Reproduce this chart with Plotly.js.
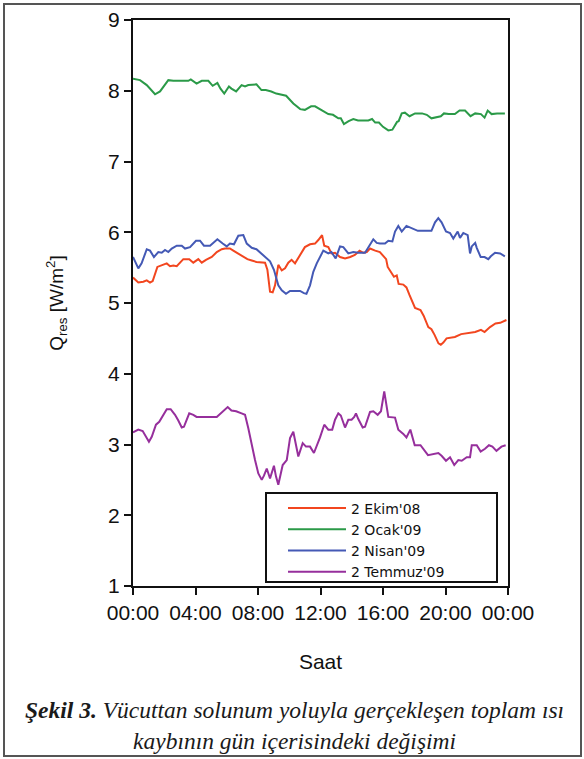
<!DOCTYPE html>
<html>
<head>
<meta charset="utf-8">
<script src="https://cdn.plot.ly/plotly-3.0.1.min.js"></script>
<style>
  html, body { margin: 0; padding: 0; background: #ffffff; }
  #chart { width: 584px; height: 759px; }
</style>
</head>
<body>
<div id="chart"></div>
<script>
// ---- Data (hours of day, Q_res in W/m²) ----
var seriesNames = ["2 Ekim'08", "2 Ocak'09", "2 Nisan'09", "2 Temmuz'09"];

var ekimHours = [0,0.34,0.66,0.88,1.09,1.26,1.56,1.84,2.16,2.37,2.58,2.8,3.22,3.6,3.86,4.18,4.4,4.67,5.04,5.36,5.68,5.89,6.2,6.42,6.74,7.06,7.32,7.6,7.9,8.45,8.6,8.77,8.94,9.09,9.3,9.52,9.73,9.94,10.15,10.37,10.69,11.0,11.33,11.65,11.86,12.1,12.24,12.5,12.7,12.93,13.25,13.57,13.9,14.2,14.5,14.74,14.96,15.17,15.5,15.8,16.0,16.2,16.3,16.5,16.7,16.88,17.0,17.3,17.5,17.7,18.05,18.4,18.6,18.9,19.1,19.3,19.55,19.7,19.86,20.07,20.6,21.0,21.46,21.9,22.27,22.5,22.85,23.2,23.5,23.9];
var ekimValues = [5.36,5.29,5.30,5.32,5.29,5.31,5.51,5.53,5.56,5.52,5.53,5.52,5.62,5.62,5.57,5.62,5.57,5.61,5.65,5.72,5.76,5.77,5.77,5.74,5.70,5.65,5.62,5.60,5.58,5.57,5.47,5.16,5.15,5.25,5.54,5.46,5.49,5.57,5.61,5.56,5.68,5.79,5.83,5.84,5.89,5.96,5.81,5.79,5.70,5.71,5.65,5.63,5.65,5.68,5.74,5.71,5.72,5.77,5.74,5.72,5.67,5.62,5.51,5.44,5.37,5.39,5.27,5.26,5.22,5.11,4.93,4.90,4.82,4.66,4.63,4.55,4.43,4.41,4.44,4.50,4.52,4.56,4.57,4.59,4.62,4.59,4.66,4.71,4.72,4.76];

var ocakHours = [0,0.45,0.88,1.41,1.73,2.26,2.58,3.54,3.7,4.07,4.4,4.82,5.1,5.4,5.6,5.84,6.14,6.3,6.6,6.95,7.17,7.38,7.9,8.22,8.5,8.85,9.17,9.6,9.8,10.26,10.7,11.0,11.4,11.65,12.07,12.5,12.8,13.14,13.3,13.5,13.8,14.1,14.4,15.06,15.3,15.5,15.74,16.0,16.34,16.6,16.9,17.0,17.2,17.4,17.7,18.05,18.5,18.8,19.1,19.4,19.7,19.9,20.2,20.6,20.9,21.25,21.6,21.9,22.27,22.5,22.7,22.95,23.3,23.8];
var ocakValues = [8.17,8.15,8.08,7.95,7.99,8.15,8.14,8.14,8.16,8.10,8.14,8.14,8.07,8.11,8.03,7.96,8.06,8.03,7.99,8.08,8.06,8.08,8.09,8.01,8.01,7.99,7.96,7.94,7.93,7.82,7.74,7.73,7.78,7.78,7.73,7.67,7.66,7.61,7.61,7.53,7.57,7.60,7.58,7.58,7.60,7.55,7.55,7.49,7.44,7.45,7.56,7.57,7.68,7.69,7.64,7.68,7.68,7.66,7.61,7.63,7.64,7.68,7.67,7.67,7.72,7.72,7.64,7.68,7.67,7.62,7.72,7.67,7.68,7.68];

var nisanHours = [0,0.34,0.55,0.88,1.09,1.34,1.62,1.84,2.05,2.26,2.48,2.8,3.12,3.33,3.65,4.03,4.29,4.54,4.93,5.4,5.74,6.0,6.2,6.46,6.74,7.06,7.28,7.6,7.9,8.2,8.56,8.77,9.02,9.3,9.52,9.79,10.05,10.69,10.94,11.1,11.33,11.54,11.76,11.97,12.18,12.5,12.7,12.97,13.25,13.46,13.78,14.1,14.42,14.85,15.17,15.38,15.6,15.8,16.13,16.34,16.6,16.77,16.98,17.2,17.5,17.8,18.23,19.1,19.33,19.54,19.75,20.03,20.29,20.5,20.78,20.93,21.14,21.42,21.57,21.68,21.9,22.0,22.25,22.5,22.74,22.9,23.17,23.5,23.8];
var nisanValues = [5.65,5.49,5.56,5.76,5.74,5.65,5.72,5.71,5.75,5.72,5.77,5.81,5.81,5.77,5.79,5.88,5.88,5.81,5.81,5.90,5.84,5.80,5.84,5.83,5.95,5.96,5.84,5.78,5.76,5.70,5.64,5.59,5.47,5.25,5.18,5.13,5.17,5.17,5.14,5.13,5.25,5.44,5.56,5.65,5.74,5.70,5.72,5.63,5.80,5.79,5.70,5.72,5.71,5.71,5.82,5.90,5.85,5.84,5.84,5.88,5.87,6.01,6.09,6.01,6.09,6.06,6.02,6.02,6.14,6.20,6.14,6.01,5.99,5.91,6.01,5.92,5.99,5.96,5.70,5.80,5.85,5.78,5.65,5.65,5.62,5.66,5.71,5.70,5.66];

var temmuzHours = [0,0.34,0.62,0.83,1.02,1.2,1.47,1.68,1.94,2.16,2.41,2.69,2.9,3.12,3.26,3.44,3.6,3.86,4.07,5.36,5.68,6.06,6.3,6.6,6.95,7.17,7.38,7.6,7.81,8.02,8.24,8.38,8.56,8.77,9.02,9.15,9.3,9.58,9.84,10.05,10.26,10.58,10.86,11.07,11.33,11.58,11.76,11.97,12.24,12.5,12.75,12.93,13.14,13.3,13.57,13.78,13.99,14.16,14.27,14.42,14.7,14.85,15.17,15.38,15.66,15.87,16.08,16.34,16.77,16.98,17.3,17.5,17.75,17.88,18.03,18.4,18.66,18.88,19.54,19.75,20.03,20.29,20.56,20.82,21.04,21.36,21.57,21.68,22.0,22.25,22.53,22.78,23.0,23.26,23.58,23.85];
var temmuzValues = [3.17,3.21,3.19,3.10,3.04,3.11,3.28,3.32,3.42,3.50,3.50,3.42,3.34,3.24,3.25,3.36,3.44,3.42,3.39,3.39,3.45,3.53,3.48,3.47,3.44,3.42,3.23,2.99,2.78,2.59,2.50,2.56,2.66,2.52,2.70,2.55,2.43,2.71,2.78,3.09,3.18,2.83,3.02,2.97,2.97,2.88,2.97,3.10,3.28,3.21,3.21,3.35,3.44,3.41,3.24,3.35,3.35,3.39,3.44,3.36,3.24,3.25,3.46,3.47,3.42,3.47,3.75,3.39,3.38,3.21,3.15,3.10,3.21,3.10,2.99,2.99,2.91,2.85,2.88,2.84,2.77,2.82,2.71,2.78,2.77,2.82,2.82,2.99,2.99,2.90,2.94,2.99,2.97,2.91,2.97,2.99];

var xTickVals = [0, 4, 8, 12, 16, 20, 24];
var xTickText = ["00:00", "04:00", "08:00", "12:00", "16:00", "20:00", "00:00"];

var xLabel = "Saat";
var yLabel = "Q<sub>res</sub> [W/m<sup>2</sup>]";
var captionBold = "Şekil 3.";
var captionLine1 = " Vücuttan solunum yoluyla gerçekleşen toplam ısı";
var captionLine2 = "kaybının gün içerisindeki değişimi";

// ---- Styles ----
var colors = ["#f2461f", "#2b9a48", "#4459b5", "#962f9c"];
var hoursList = [ekimHours, ocakHours, nisanHours, temmuzHours];
var valuesList = [ekimValues, ocakValues, nisanValues, temmuzValues];

var traces = seriesNames.map(function (name, i) {
  return {
    type: "scatter",
    mode: "lines",
    name: name,
    x: hoursList[i],
    y: valuesList[i],
    line: { color: colors[i], width: 2 },
    hoverinfo: "x+y+name"
  };
});

// figure geometry (pixels)
var W = 584, H = 759;
var M = { l: 133, r: 76, t: 20, b: 173 };
var pw = W - M.l - M.r, ph = H - M.t - M.b;
function px2x(p) { return (p - M.l) / pw; }
function py2y(p) { return (H - M.b - p) / ph; }

var layout = {
  width: W,
  height: H,
  margin: M,
  paper_bgcolor: "#ffffff",
  plot_bgcolor: "#ffffff",
  font: { family: "Liberation Sans, Arial, sans-serif", color: "#111111" },
  showlegend: true,
  legend: {
    x: px2x(283), y: py2y(492.5), xanchor: "left", yanchor: "top",
    bgcolor: "rgba(0,0,0,0)", borderwidth: 0,
    font: { size: 14, family: "DejaVu Sans, Liberation Sans, sans-serif", color: "#111111" },
    itemwidth: 58,
    tracegroupgap: 0
  },
  xaxis: {
    range: [0, 24],
    tickvals: xTickVals,
    ticktext: xTickText,
    ticks: "outside", ticklen: 7, tickwidth: 2, tickcolor: "#111111",
    showline: true, linewidth: 2, linecolor: "#111111", mirror: true,
    showgrid: false, zeroline: false,
    tickfont: { size: 21 },
    title: { text: xLabel, font: { size: 21 }, standoff: 31 }
  },
  yaxis: {
    range: [1, 9],
    dtick: 1,
    ticks: "outside", ticklen: 7, tickwidth: 2, tickcolor: "#111111",
    showline: true, linewidth: 2, linecolor: "#111111", mirror: true,
    showgrid: false, zeroline: false,
    tickfont: { size: 21 },
    title: { text: yLabel, font: { size: 19 }, standoff: 39 }
  },
  annotations: [{
    xref: "paper", yref: "paper",
    x: px2x(294), y: py2y(725),
    xanchor: "center", yanchor: "middle",
    showarrow: false,
    align: "center",
    text: "<b><i>" + captionBold + "</i></b><i>" + captionLine1 + "</i><br><i>" + captionLine2 + "</i>",
    font: { family: "Liberation Serif, Times New Roman, serif", size: 23.5, color: "#1a1a1a" }
  }],
  shapes: [
    {
      type: "rect", xref: "paper", yref: "paper",
      x0: px2x(4), x1: px2x(581), y0: py2y(4), y1: py2y(756),
      line: { color: "#555555", width: 2 },
      fillcolor: "rgba(0,0,0,0)",
      layer: "below"
    },
    {
      type: "rect", xref: "paper", yref: "paper",
      x0: px2x(266), x1: px2x(497), y0: py2y(493), y1: py2y(582),
      line: { color: "#111111", width: 2 },
      fillcolor: "#ffffff",
      layer: "below"
    }
  ]
};

Plotly.newPlot("chart", traces, layout, { displayModeBar: false, staticPlot: true });
</script>
</body>
</html>
